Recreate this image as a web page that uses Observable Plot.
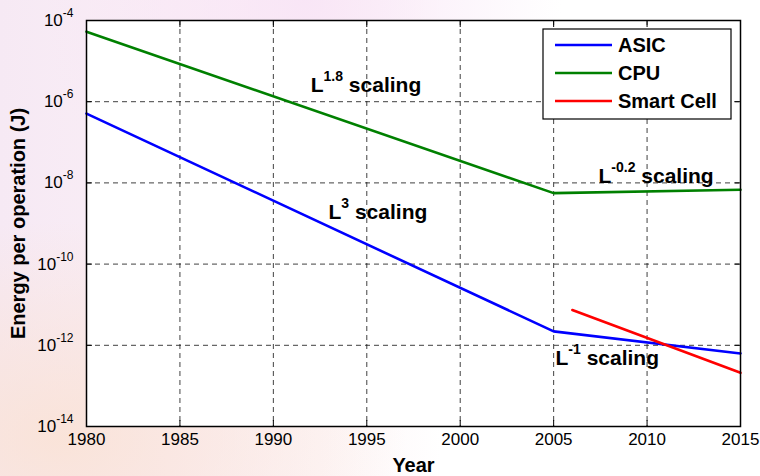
<!DOCTYPE html>
<html><head><meta charset="utf-8">
<script src="https://cdn.jsdelivr.net/npm/d3@7"></script>
<script src="https://cdn.jsdelivr.net/npm/@observablehq/plot@0.6"></script>
<style>
html,body{margin:0;padding:0;}
body{width:760px;height:476px;overflow:hidden;
background:
 radial-gradient(ellipse at 8% 92%, rgba(250,226,212,0.85) 0%, rgba(250,226,212,0) 35%),
 radial-gradient(ellipse at 40% 0%, rgba(248,228,246,0.9) 0%, rgba(248,228,246,0) 40%),
 linear-gradient(90deg, #f6e9f4 0%, #faeef6 22%, #fdf5f7 42%, #ffffff 58%);
font-family:"Liberation Sans", Arial, sans-serif;}
#chart{position:relative;width:760px;height:476px;}
</style></head><body><div id="chart"></div>
<script>
// Data
const asicYears = [1980, 2005, 2015];
const asicValues = [5.1e-7, 2.2e-12, 6.3e-13];
const cpuYears = [1980, 2005, 2015];
const cpuValues = [5.3e-5, 5.6e-9, 6.8e-9];
const smartYears = [2006, 2015];
const smartValues = [7.4e-12, 2.1e-13];
const seriesNames = ["ASIC", "CPU", "Smart Cell"];
const seriesColors = ["#0000ff", "#008000", "#ff0000"];
const xTicks = [1980, 1985, 1990, 1995, 2000, 2005, 2010, 2015];
const yTicks = [1e-14, 1e-12, 1e-10, 1e-8, 1e-6, 1e-4];
const annYears = [1992.0, 1992.95, 2007.4, 2005.1];
const annValues = [2.5e-6, 1.86e-9, 1.45e-8, 4.7e-13];
const annLabels = ["L^1.8 scaling", "L^3 scaling", "L^-0.2 scaling", "L^-1 scaling"];

const lineData = [
  ...asicYears.map((y, i) => ({series: "ASIC", year: y, value: asicValues[i]})),
  ...cpuYears.map((y, i) => ({series: "CPU", year: y, value: cpuValues[i]})),
  ...smartYears.map((y, i) => ({series: "Smart Cell", year: y, value: smartValues[i]}))
];
const annData = annLabels.map((t, i) => ({year: annYears[i], value: annValues[i], label: t}));

const grid = {stroke: "#111", strokeOpacity: 0.8, strokeWidth: 1, strokeDasharray: "5,4"};
const blank = () => "";

const chart = Plot.plot({
  width: 760, height: 476,
  marginLeft: 86, marginRight: 20, marginTop: 20, marginBottom: 50,
  style: {background: "transparent", fontFamily: "'Liberation Sans', Arial, sans-serif", fontSize: "17px", color: "#000"},
  x: {domain: [1980, 2015], label: null},
  y: {type: "log", domain: [1e-14, 1e-4], label: null},
  color: {domain: seriesNames, range: seriesColors},
  marks: [
    Plot.frame({fill: "white", stroke: null}),
    Plot.gridX(xTicks.slice(1, -1), grid),
    Plot.gridY(yTicks.slice(1, -1), grid),
    Plot.line(lineData, {x: "year", y: "value", z: "series", stroke: "series", strokeWidth: 2.6}),
    Plot.text(annData, {x: "year", y: "value", text: "label", textAnchor: "start", fontWeight: "bold", fontSize: 21, fill: "#000", className: "ann"}),
    Plot.frame({stroke: "#000", strokeWidth: 1.5}),
    Plot.axisX(xTicks, {anchor: "bottom", tickSize: 0, tickPadding: 6, tickFormat: "d", fill: "#000", fontSize: 17}),
    Plot.axisX(xTicks, {anchor: "bottom", tickSize: -6, tickFormat: blank}),
    Plot.axisX(xTicks, {anchor: "top", tickSize: -6, tickFormat: blank}),
    Plot.axisY(yTicks, {anchor: "left", tickSize: 0, tickPadding: 13, fill: "#000", fontSize: 17, tickFormat: d => "10^" + Math.round(Math.log10(d)), className: "ytick"}),
    Plot.axisY(yTicks, {anchor: "left", tickSize: -6, tickFormat: blank}),
    Plot.axisY(yTicks, {anchor: "right", tickSize: -6, tickFormat: blank}),
    Plot.text(["Year"], {frameAnchor: "bottom", dy: 39, textAnchor: "middle", lineAnchor: "middle", fontWeight: "bold", fontSize: 20, fill: "#000"}),
    Plot.text(["Energy per operation (J)"], {frameAnchor: "left", dx: -68, rotate: -90, textAnchor: "middle", lineAnchor: "middle", fontWeight: "bold", fontSize: 20, fill: "#000"})
  ]
});
document.getElementById("chart").appendChild(chart);

function supify(el, supSize, shift) {
  const s = el.textContent;
  const m = s.match(/^(.*?)\^(\S+)(.*)$/);
  if (!m) return;
  const sel = d3.select(el);
  sel.text(null);
  sel.append("tspan").text(m[1]);
  sel.append("tspan").attr("font-size", supSize).attr("dy", -shift).text(m[2]);
  if (m[3]) sel.append("tspan").attr("dy", shift).text(m[3]);
}
const svg = d3.select(chart);
svg.selectAll(".ytick text").each(function() { supify(this, 12, 9); });
svg.selectAll(".ann text").each(function() { supify(this, 14, 11); });

// Legend box
const lg = svg.append("g").attr("font-family", "'Liberation Sans', Arial, sans-serif").attr("text-anchor", "start");
lg.append("rect").attr("x", 543).attr("y", 29).attr("width", 188).attr("height", 90)
  .attr("fill", "white").attr("stroke", "#000").attr("stroke-width", 1.2);
seriesNames.forEach((name, i) => {
  const y = 45 + i * 28;
  lg.append("line").attr("x1", 555).attr("x2", 612).attr("y1", y).attr("y2", y)
    .attr("stroke", seriesColors[i]).attr("stroke-width", 2.6);
  lg.append("text").attr("x", 618).attr("y", y).attr("dy", "0.36em").attr("text-anchor", "start")
    .attr("font-weight", "bold").attr("font-size", 20).attr("fill", "#000").text(name);
});
</script>
</body></html>
